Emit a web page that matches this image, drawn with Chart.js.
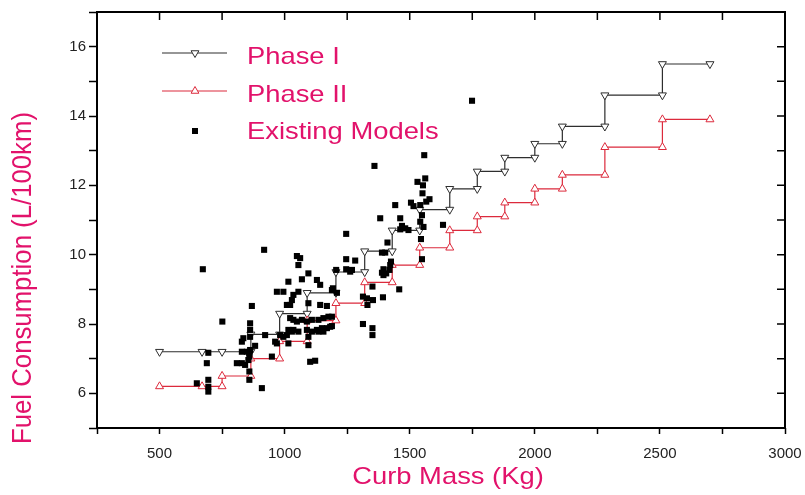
<!DOCTYPE html>
<html>
<head>
<meta charset="utf-8">
<script src="https://cdn.jsdelivr.net/npm/chart.js@4"></script>
<style>
    body { margin: 0; background: #fff; }
    canvas { display: block; }
</style>
</head>
<body>
<canvas id="grafico" width="805" height="495"></canvas>
<script>
// degraus dos limites (massa em kg, consumo em L/100km)
const fase1Massa = [500, 670, 750, 865, 865, 980, 980, 1090, 1090, 1205, 1205, 1320, 1320, 1430, 1430, 1540, 1540, 1660, 1660, 1770, 1770, 1880, 1880, 2000, 2000, 2110, 2110, 2280, 2280, 2510, 2510, 2700];
const fase1Consumo = [7.2, 7.2, 7.2, 7.2, 7.7, 7.7, 8.3, 8.3, 8.9, 8.9, 9.5, 9.5, 10.1, 10.1, 10.7, 10.7, 11.3, 11.3, 11.9, 11.9, 12.4, 12.4, 12.8, 12.8, 13.2, 13.2, 13.7, 13.7, 14.6, 14.6, 15.5, 15.5];
const fase2Massa = [500, 670, 750, 750, 865, 865, 980, 980, 1090, 1090, 1205, 1205, 1320, 1320, 1430, 1430, 1540, 1540, 1660, 1660, 1770, 1770, 1880, 1880, 2000, 2000, 2110, 2110, 2280, 2280, 2510, 2510, 2700];
const fase2Consumo = [6.2, 6.2, 6.2, 6.5, 6.5, 7.0, 7.0, 7.5, 7.5, 8.1, 8.1, 8.6, 8.6, 9.2, 9.2, 9.7, 9.7, 10.2, 10.2, 10.7, 10.7, 11.1, 11.1, 11.5, 11.5, 11.9, 11.9, 12.3, 12.3, 13.1, 13.1, 13.9, 13.9];

// modelos existentes
const modelosMassa = [649, 695, 695, 695, 689, 695, 673, 751, 909, 809, 829, 842, 855, 859, 859, 859, 859, 949, 922, 962,
    969, 1009, 869, 862, 862, 835, 829, 862, 882, 829, 849, 862, 1015, 1009, 1029, 1095, 1095, 1102, 1122, 1135,
    1155, 918, 1049, 1062, 1055, 1095, 1069, 1129, 1142, 1015, 1055, 1035, 1029, 1022, 969, 995, 1095, 1142, 1169, 1193,
    1022, 1035, 1049, 1069, 1089, 1109, 1135, 1155, 1175, 1015, 1035, 1055, 1089, 1109, 1129, 1149, 1169, 1182, 982, 995,
    1246, 1359, 1246, 1282, 1246, 1269, 1262, 1206, 1189, 1209, 1313, 1329, 1331, 1353, 1393, 1351, 1458, 1313, 1351, 1351,
    1189, 1189, 1389, 1402, 1425, 1422, 1395, 1389, 1395, 1406, 1419, 1382, 1462, 1469, 1482, 1462, 1495, 1442, 1505, 1515,
    1542, 1551, 1411, 1549, 1549, 1542, 1633, 1562, 1531, 1553, 1579, 1566, 1558, 1749, 1555, 1545];
const modelosConsumo = [6.29, 6.39, 6.19, 6.05, 6.87, 7.17, 9.58, 8.07, 6.15, 6.87, 6.87, 6.82, 6.96, 7.16, 7.06, 6.63, 6.39, 7.06, 7.68, 7.49,
    7.44, 8.55, 8.52, 8.02, 7.83, 7.59, 7.49, 7.63, 7.37, 7.20, 7.20, 7.25, 7.44, 7.68, 7.78, 7.63, 7.39, 6.91, 6.94, 7.78,
    7.78, 10.14, 9.96, 9.90, 9.70, 9.46, 9.29, 9.27, 9.13, 9.22, 8.93, 8.84, 8.69, 8.55, 8.93, 8.93, 8.60, 8.55, 8.52, 9.03,
    8.17, 8.12, 8.07, 8.12, 8.07, 8.12, 8.12, 8.17, 8.21, 7.83, 7.83, 7.78, 7.83, 7.78, 7.83, 7.88, 7.88, 7.92, 7.68, 7.63,
    10.60, 12.56, 9.87, 9.83, 9.58, 9.56, 9.51, 9.56, 8.98, 8.90, 8.79, 8.74, 8.55, 8.69, 8.77, 9.08, 9.00, 8.00, 7.88, 7.68,
    8.21, 7.94, 10.06, 10.06, 9.80, 9.70, 9.58, 9.48, 9.41, 9.46, 9.56, 11.05, 11.05, 10.83, 10.76, 10.73, 10.71, 11.43, 11.50, 11.40,
    11.43, 11.77, 10.35, 9.87, 11.14, 10.95, 10.86, 12.20, 12.10, 12.00, 11.60, 11.53, 12.87, 14.44, 10.80, 10.45];

const rotulosX = [500, 1000, 1500, 2000, 2500, 3000];
const rotulosY = [6, 8, 10, 12, 14, 16];
const legendas = ['Phase I', 'Phase II', 'Existing Models'];
const tituloX = 'Curb Mass (Kg)';
const tituloY = 'Fuel Consumption (L/100km)';

const rosa = '#e2126b';
const cinza = '#2e2e2e';
const vermelho = '#dc2a3c';

function pontos(xs, ys) {
    return xs.map((x, i) => ({ x: x, y: ys[i] }));
}

function triangulo(ctx, x, y, r, paraBaixo, cor) {
    const s = paraBaixo ? -1 : 1;
    ctx.beginPath();
    ctx.moveTo(x, y - s * r);
    ctx.lineTo(x + r * 0.866, y + s * r * 0.5);
    ctx.lineTo(x - r * 0.866, y + s * r * 0.5);
    ctx.closePath();
    ctx.fillStyle = '#fff';
    ctx.fill();
    ctx.strokeStyle = cor;
    ctx.lineWidth = 1;
    ctx.stroke();
}

function textoLargo(ctx, txt, x, y, esc) {
    ctx.save();
    ctx.translate(x, y);
    ctx.scale(esc, 1);
    ctx.fillText(txt, 0, 0);
    ctx.restore();
}

const moldura = {
    id: 'moldura',
    afterDraw(chart) {
        const ctx = chart.ctx;
        const a = chart.chartArea;
        const sx = chart.scales.x, sy = chart.scales.y;
        ctx.save();
        // tiques internos em cima e na direita
        ctx.strokeStyle = '#000';
        ctx.lineWidth = 1.5;
        ctx.beginPath();
        sx.ticks.forEach(t => {
            const p = sx.getPixelForValue(t.value);
            ctx.moveTo(p, a.top);
            ctx.lineTo(p, a.top + 8);
        });
        sy.ticks.forEach(t => {
            const p = sy.getPixelForValue(t.value);
            ctx.moveTo(a.right, p);
            ctx.lineTo(a.right - 8, p);
        });
        ctx.stroke();
        ctx.lineWidth = 2;
        ctx.strokeRect(a.left, a.top, a.right - a.left, a.bottom - a.top);

        // legenda
        ctx.lineWidth = 1.2;
        ctx.strokeStyle = cinza;
        ctx.beginPath(); ctx.moveTo(162, 53); ctx.lineTo(227, 53); ctx.stroke();
        triangulo(ctx, 195, 53, 4.5, true, cinza);
        ctx.lineWidth = 1.2;
        ctx.strokeStyle = vermelho;
        ctx.beginPath(); ctx.moveTo(162, 91); ctx.lineTo(227, 91); ctx.stroke();
        triangulo(ctx, 195, 91, 4.5, false, vermelho);
        ctx.fillStyle = '#000';
        ctx.fillRect(192, 128, 6, 6);

        ctx.fillStyle = rosa;
        ctx.font = '24px "Liberation Sans", Arial, sans-serif';
        ctx.textAlign = 'left';
        ctx.textBaseline = 'alphabetic';
        textoLargo(ctx, legendas[0], 247, 64, 1.14);
        textoLargo(ctx, legendas[1], 247, 102, 1.14);
        textoLargo(ctx, legendas[2], 247, 139, 1.14);

        // titulos dos eixos
        ctx.textAlign = 'center';
        textoLargo(ctx, tituloX, 448, 484, 1.14);
        ctx.save();
        ctx.translate(31, 278);
        ctx.rotate(-Math.PI / 2);
        ctx.font = '25px "Liberation Sans", Arial, sans-serif';
        ctx.scale(1.03, 1.1);
        ctx.fillText(tituloY, 0, 0);
        ctx.restore();
        ctx.restore();
    }
};

const fonteTiques = { family: '"Liberation Sans Narrow", "Arial Narrow", sans-serif', size: 15 };

new Chart(document.getElementById('grafico'), {
    type: 'scatter',
    data: {
        datasets: [
            {
                label: legendas[0],
                data: pontos(fase1Massa, fase1Consumo),
                showLine: true,
                borderColor: cinza,
                borderWidth: 1.2,
                pointStyle: 'triangle',
                rotation: 180,
                pointRadius: 4.6,
                pointBackgroundColor: '#fff',
                pointBorderColor: cinza,
                pointBorderWidth: 1,
                order: 2
            },
            {
                label: legendas[1],
                data: pontos(fase2Massa, fase2Consumo),
                showLine: true,
                borderColor: vermelho,
                borderWidth: 1.2,
                pointStyle: 'triangle',
                pointRadius: 4.6,
                pointBackgroundColor: '#fff',
                pointBorderColor: vermelho,
                pointBorderWidth: 1,
                order: 1
            },
            {
                label: legendas[2],
                data: pontos(modelosMassa, modelosConsumo),
                pointStyle: 'rect',
                pointRadius: 4.3,
                pointBackgroundColor: '#000',
                pointBorderColor: '#000',
                pointBorderWidth: 0,
                order: 0
            }
        ]
    },
    options: {
        responsive: false,
        animation: false,
        layout: { padding: { top: 12, right: 20, left: 0, bottom: 0 } },
        plugins: {
            legend: { display: false },
            tooltip: { enabled: false }
        },
        scales: {
            x: {
                type: 'linear',
                min: 250,
                max: 3000,
                afterFit: s => {
                    s.height = 67;
                    s.paddingLeft = 0;
                    s.paddingRight = 0;
                },
                ticks: {
                    stepSize: 250,
                    autoSkip: false,
                    maxRotation: 0,
                    padding: 11,
                    color: '#222',
                    font: fonteTiques,
                    callback: v => rotulosX.includes(v) ? String(v) : ''
                },
                grid: { drawOnChartArea: false, tickLength: 6, tickColor: '#000', tickWidth: 1.5 },
                border: { display: false }
            },
            y: {
                min: 5,
                max: 17,
                afterFit: s => {
                    s.width = 97;
                    s.paddingTop = 0;
                    s.paddingBottom = 0;
                },
                ticks: {
                    stepSize: 1,
                    autoSkip: false,
                    padding: 3,
                    color: '#222',
                    font: fonteTiques,
                    callback: v => rotulosY.includes(v) ? String(v) : ''
                },
                grid: { drawOnChartArea: false, tickLength: 8, tickColor: '#000', tickWidth: 1.5 },
                border: { display: false }
            }
        }
    },
    plugins: [moldura]
});
</script>
</body>
</html>
